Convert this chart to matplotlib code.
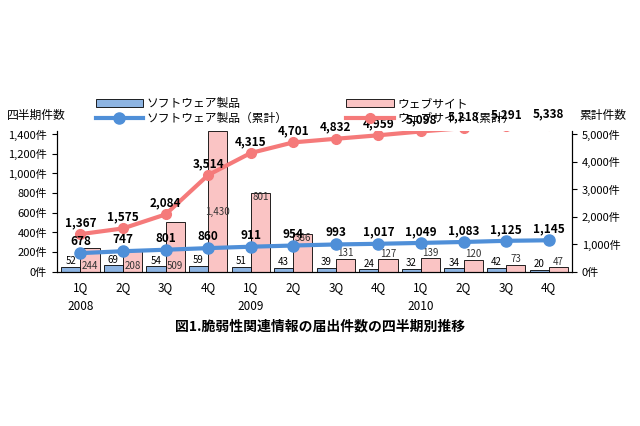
import matplotlib
matplotlib.use("Agg")
import matplotlib.pyplot as plt
import numpy as np

plt.rcParams['font.family'] = ['Noto Sans CJK JP', 'DejaVu Sans']

quarters = ["1Q", "2Q", "3Q", "4Q", "1Q", "2Q", "3Q", "4Q", "1Q", "2Q", "3Q", "4Q"]
years = {0: "2008", 4: "2009", 8: "2010"}
sw = [52, 69, 54, 59, 51, 43, 39, 24, 32, 34, 42, 20]
web = [244, 208, 509, 1430, 801, 386, 131, 127, 139, 120, 73, 47]
sw_cum = [678, 747, 801, 860, 911, 954, 993, 1017, 1049, 1083, 1125, 1145]
web_cum = [1367, 1575, 2084, 3514, 4315, 4701, 4832, 4959, 5098, 5218, 5291, 5338]

fig = plt.figure(figsize=(6.4, 4.26), dpi=100)
ax = fig.add_axes([0.089, 0.362, 0.805, 0.33])
x = np.arange(len(sw))
w = 0.45
b1 = ax.bar(x - w/2, sw, w, color='#8db4e2', edgecolor='black', linewidth=0.6)
b2 = ax.bar(x + w/2, web, w, color='#fac4c4', edgecolor='black', linewidth=0.6)
ax.set_ylim(0, 1430)
ax.set_xlim(-0.55, 11.55)
ax.set_yticks(range(0, 1401, 200))
ax.set_yticklabels([f"{v:,}件" for v in range(0, 1401, 200)], fontsize=8)
ax.set_xticks(x)
ax.set_xticklabels(quarters, fontsize=8.5)
ax.spines['top'].set_visible(False)
ax.tick_params(axis='x', length=0, pad=7)
for i, yr in years.items():
    ax.text(x[i] if i == 0 else x[i] - 0.5 + 0.5, -0.2, yr, transform=ax.get_xaxis_transform(),
            ha='center', va='top', fontsize=8.5)
for i in range(len(sw)):
    ax.text(x[i] - w/2, sw[i] + 5, str(sw[i]), ha='center', va='bottom', fontsize=7)
    if i < 3:
        yy = 5
    elif i == 3:
        yy = 560
    elif web[i] > 300:
        yy = web[i] - 90
    else:
        yy = web[i] + 5
    ax.text(x[i] + w/2, yy, f"{web[i]:,}", ha='center', va='bottom', fontsize=7, color='#333333')

ax2 = ax.twinx()
ax2.set_ylim(0, 5107)
ax2.set_yticks(range(0, 5001, 1000))
ax2.set_yticklabels([f"{v:,}件" for v in range(0, 5001, 1000)], fontsize=8)
ax2.spines['top'].set_visible(False)
l1, = ax2.plot(x, sw_cum, color='#4f8fd8', lw=3, marker='o', ms=8)
l2, = ax2.plot(x, web_cum, color='#f57a7a', lw=3, marker='o', ms=7)
for i in range(len(x)):
    ax2.text(x[i], sw_cum[i] + 180, f"{sw_cum[i]:,}", ha='center', va='bottom', fontsize=8.5, fontweight='bold')
    ax2.text(x[i], web_cum[i] + 180, f"{web_cum[i]:,}", ha='center', va='bottom', fontsize=8.5, fontweight='bold')

fig.text(0.01, 0.72, '四半期件数', fontsize=8.5)
fig.text(0.905, 0.72, '累計件数', fontsize=8.5)
fig.legend([b1, l1, b2, l2], ['ソフトウェア製品', 'ソフトウェア製品（累計）', 'ウェブサイト', 'ウェブサイト（累計）'],
           ncol=2, loc='upper left', bbox_to_anchor=(0.14, 0.785), frameon=False, fontsize=8.5,
           handlelength=4, columnspacing=5, labelspacing=0.1, borderpad=0, handletextpad=0.3)
fig.text(0.5, 0.225, '図1.脆弱性関連情報の届出件数の四半期別推移', ha='center', fontsize=10, fontweight='bold')
fig.savefig('out.png', dpi=100)
